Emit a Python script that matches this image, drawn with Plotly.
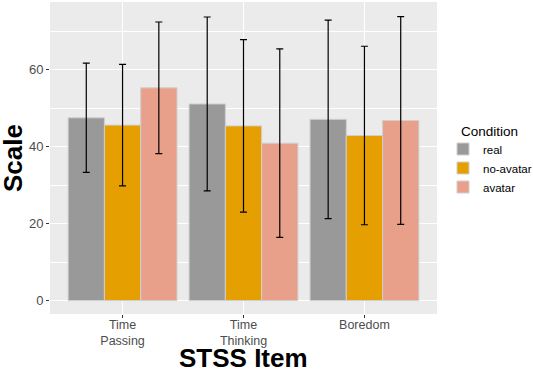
import plotly.graph_objects as go

categories = ["Time<br>Passing", "Time<br>Thinking", "Boredom"]
conditions = ["real", "no-avatar", "avatar"]
colors = ["#999999", "#E69F00", "#E9A08A"]

means = {
    "real":      [47.5, 51.1, 47.1],
    "no-avatar": [45.6, 45.4, 42.9],
    "avatar":    [55.3, 40.9, 46.8],
}
sds = {
    "real":      [14.2, 22.6, 25.8],
    "no-avatar": [15.8, 22.4, 23.2],
    "avatar":    [17.1, 24.5, 27.0],
}

y_ticks = [0, 20, 40, 60]

FONT = "Liberation Sans, Arial, Helvetica, sans-serif"

fig = go.Figure()
for cond, col in zip(conditions, colors):
    fig.add_trace(go.Bar(
        name=cond,
        x=categories,
        y=means[cond],
        marker=dict(color=col, line=dict(color="#CFCFCF", width=1)),
        error_y=dict(type="data", array=sds[cond], visible=True,
                     color="black", thickness=1.2, width=3.5),
    ))

fig.update_layout(
    width=533, height=370,
    margin=dict(l=50, r=96, t=2, b=56, autoexpand=False),
    paper_bgcolor="white",
    plot_bgcolor="#EBEBEB",
    barmode="group",
    bargap=0.1,
    bargroupgap=0,
    font=dict(family=FONT, color="#4D4D4D"),
    showlegend=True,
    legend=dict(
        font=dict(size=11.5, color="black"),
        x=(443 - 50) / 387, xanchor="left",
        y=(314 - 168) / 312, yanchor="middle",
        bgcolor="rgba(0,0,0,0)",
        tracegroupgap=0,
        itemwidth=30,
    ),
    xaxis=dict(
        range=[-0.6, 2.6], automargin=False,
        showgrid=True, gridcolor="white", gridwidth=1.1,
        ticks="outside", ticklen=3, tickcolor="#333333",
        tickfont=dict(size=12.5, color="#4D4D4D"),
        ticklabelstandoff=-4,
        zeroline=False, showline=False,
    ),
    yaxis=dict(
        range=[-3.5, 77.6], automargin=False,
        tickvals=y_ticks,
        showgrid=True, gridcolor="white", gridwidth=1.1,
        minor=dict(dtick=10, tick0=0, showgrid=True, gridcolor="white", gridwidth=0.5),
        ticks="outside", ticklen=3, tickcolor="#333333",
        tickfont=dict(size=13, color="#4D4D4D"),
        zeroline=False, showline=False,
    ),
    annotations=[
        dict(text="<b>Scale</b>", xref="paper", yref="paper",
             x=-37/387, y=0.5, xanchor="center", yanchor="middle",
             textangle=-90, showarrow=False,
             font=dict(size=26, color="black", family=FONT)),
        dict(text="<b>STSS Item</b>", xref="paper", yref="paper",
             x=0.5, y=-(358 - 314) / 312, xanchor="center", yanchor="middle",
             showarrow=False,
             font=dict(size=26, color="black", family=FONT)),
        dict(text="Condition", xref="paper", yref="paper",
             x=(459 - 50) / 387, y=(314 - 131) / 312, xanchor="left", yanchor="middle",
             showarrow=False,
             font=dict(size=13.5, color="black", family=FONT)),
    ],
)

fig.write_html("out.html",
               config={"displayModeBar": False},
               post_script="document.body.style.margin='0';document.body.style.overflow='hidden';")
